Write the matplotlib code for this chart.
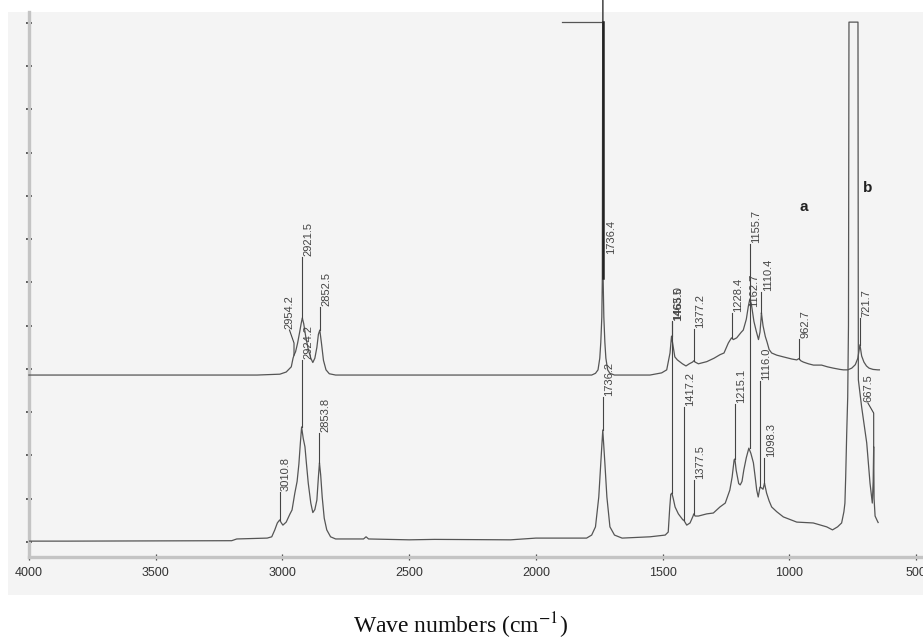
import matplotlib
matplotlib.use("Agg")
import matplotlib.pyplot as plt
from matplotlib.ticker import MultipleLocator
from matplotlib.patches import Rectangle

# ---------------- data (wavenumber cm-1, absorbance a.u.) ----------------
upper_wn = [4000, 3500, 3100, 3010, 2985, 2965, 2958, 2954.2, 2948, 2940, 2932, 2926,
            2921.5, 2916, 2908, 2898, 2888, 2880, 2872, 2864, 2858, 2852.5, 2846, 2838,
            2828, 2815, 2790, 2400, 1900, 1780, 1765, 1755, 1748, 1744, 1740, 1738,
            1736.4, 1734.8, 1732, 1728, 1724, 1717, 1708, 1690, 1550, 1504, 1484, 1471,
            1465, 1458, 1452, 1442, 1422, 1408, 1395, 1382, 1377.2, 1372, 1359, 1326,
            1297, 1274, 1258, 1241, 1228.4, 1221, 1208, 1190, 1182, 1170, 1162, 1156,
            1150, 1140, 1131, 1122, 1116, 1112, 1110.4, 1104, 1095, 1088, 1080, 1070,
            1050, 1024, 990, 971, 962.7, 955, 945, 925, 905, 873, 850, 827, 800, 787,
            770, 754, 740, 730, 721.7, 715, 706, 696, 686, 670, 651, 645]
upper_ab = [3.86, 3.86, 3.86, 3.88, 3.93, 4.05, 4.25, 4.32, 4.40, 4.60, 4.85, 5.05,
            5.18, 5.05, 4.75, 4.45, 4.25, 4.15, 4.25, 4.50, 4.80, 4.90, 4.60, 4.20,
            3.98, 3.89, 3.86, 3.86, 3.86, 3.86, 3.90, 3.98, 4.25, 4.62, 5.20, 6.10,
            12.53, 6.10, 5.20, 4.62, 4.25, 3.98, 3.90, 3.86, 3.86, 3.91, 3.98, 4.37,
            4.76, 4.50, 4.28, 4.21, 4.12, 4.07, 4.12, 4.16, 4.19, 4.16, 4.12, 4.17,
            4.25, 4.33, 4.37, 4.60, 4.72, 4.68, 4.72, 4.85, 4.90, 5.15, 5.45, 5.62,
            5.50, 5.10, 4.88, 4.68, 4.85, 5.15, 5.30, 5.00, 4.75, 4.62, 4.45, 4.37,
            4.32, 4.28, 4.23, 4.21, 4.24, 4.19, 4.16, 4.12, 4.09, 4.09, 4.05, 4.02,
            3.99, 3.98, 3.98, 4.02, 4.10, 4.25, 4.56, 4.30, 4.16, 4.07, 4.02, 3.99,
            3.98, 3.98]

lower_wn = [4000, 3850, 3200, 3180, 3060, 3042, 3030, 3020, 3010.8, 3004, 2998, 2985,
            2970, 2962, 2951, 2942, 2935, 2929, 2924.2, 2918, 2911, 2905, 2898, 2888,
            2880, 2872, 2864, 2858, 2853.8, 2849, 2843, 2835, 2825, 2810, 2790, 2680,
            2670, 2660, 2500, 2400, 2100, 2000, 1800, 1780, 1765, 1752, 1744, 1736.2,
            1728, 1720, 1708, 1690, 1660, 1550, 1490, 1478, 1472, 1468, 1463.5, 1458,
            1451, 1438, 1420, 1417.2, 1405, 1392, 1380, 1377.5, 1372, 1359, 1326, 1300,
            1274, 1253, 1235, 1226, 1218, 1215.1, 1210, 1200, 1194, 1187, 1180, 1170,
            1160, 1152, 1142, 1135, 1129, 1123, 1116, 1110, 1104, 1098.3, 1090, 1080,
            1070, 1050, 1024, 971, 906, 853, 830, 810, 794, 785, 781, 778, 774, 770,
            767, 765, 729.5, 728, 715, 695, 682, 673, 669.5, 667.5, 666, 662, 655, 650]
lower_ab = [0.02, 0.02, 0.03, 0.07, 0.09, 0.12, 0.28, 0.44, 0.51, 0.44, 0.39, 0.46,
            0.65, 0.74, 1.13, 1.40, 1.80, 2.30, 2.66, 2.40, 2.20, 1.80, 1.36, 0.90,
            0.68, 0.75, 0.97, 1.50, 1.83, 1.55, 1.04, 0.55, 0.28, 0.12, 0.07, 0.07,
            0.12, 0.07, 0.05, 0.06, 0.05, 0.09, 0.09, 0.16, 0.35, 1.04, 1.83, 2.59,
            1.83, 1.04, 0.35, 0.16, 0.09, 0.12, 0.16, 0.23, 0.80, 1.10, 1.13, 1.00,
            0.81, 0.65, 0.51, 0.51, 0.39, 0.44, 0.60, 0.65, 0.60, 0.60, 0.65, 0.67,
            0.81, 0.90, 1.20, 1.50, 1.90, 1.92, 1.66, 1.35, 1.32, 1.40, 1.66, 1.95,
            2.17, 2.05, 1.83, 1.50, 1.20, 1.04, 1.27, 1.25, 1.22, 1.36, 1.13, 0.95,
            0.81, 0.70, 0.58, 0.46, 0.44, 0.35, 0.28, 0.35, 0.44, 0.70, 0.90, 1.50,
            2.50, 3.35, 5.00, 12.02, 12.02, 3.75, 3.12, 2.29, 1.36, 0.90, 1.40, 2.20,
            1.00, 0.60, 0.51, 0.45]

# off-scale ceiling segment near the 1736 band of trace a
ceil_wn = [1898, 1736.4]
ceil_ab = [12.02, 12.02]
# saturated core of the 1736 band of trace a
core_wn = [1736.4, 1736.4]
core_ab = [6.10, 12.02]

# peak labels: text, leader x, leader start, leader top, optional kink, text x
peak_text = ["2954.2", "2921.5", "2852.5", "1736.4", "1465.0", "1377.2", "1228.4",
             "1162.7", "1110.4", "962.7", "721.7",
             "3010.8", "2924.2", "2853.8", "1736.2", "1463.5", "1417.2", "1377.5",
             "1215.1", "1155.7", "1116.0", "1098.3", "667.5"]
peak_wn = [2954.2, 2921.5, 2852.5, 1730.0, 1465.0, 1377.2, 1228.4, 1162.7, 1110.4,
           962.7, 721.7,
           3010.8, 2924.2, 2853.8, 1736.2, 1463.5, 1417.2, 1377.5, 1215.1, 1155.7,
           1116.0, 1098.3, 667.5]
peak_base = [4.32, 5.18, 4.90, 6.64, 4.76, 4.19, 4.72, 5.41, 5.30, 4.24, 4.56,
             0.51, 2.66, 1.83, 2.59, 1.13, 0.51, 0.65, 1.92, 2.17, 1.27, 1.36, 2.20]
peak_top = [4.90, 6.59, 5.43, 6.64, 5.11, 4.92, 5.29, 5.41, 5.78, 4.69, 5.18,
            1.16, 4.21, 2.52, 3.35, 5.09, 3.12, 1.43, 3.19, 6.89, 3.72, 1.94, 3.21]
peak_kink = [4.60, None, None, None, None, None, None, None, None, None, None,
             None, None, None, None, None, None, None, None, None, None, None, 2.98]
peak_textwn = [2972, None, None, None, None, None, None, None, None, None, None,
               None, None, None, None, None, None, None, None, None, None, None, 690]

marks = ["a", "b"]
marks_wn = [942, 690]
marks_ab = [7.75, 8.18]

xticks = [4000, 3500, 3000, 2500, 2000, 1500, 1000, 500]

# ---------------- figure ----------------
W, H = 923, 640
fig = plt.figure(figsize=(W / 100, H / 100), dpi=100)
fig.patch.set_facecolor("white")
fig.patches.append(Rectangle((8 / W, 45 / H), 915 / W, 583 / H, transform=fig.transFigure,
                             facecolor="#f4f4f4", edgecolor="none", zorder=-10))

ax = fig.add_axes([28.9 / W, 83 / H, (W - 28.9) / W, 545 / H])
ax.set_zorder(1)
ax.set_facecolor("none")
ax.set_xlim(4000, 473)
ax.set_ylim(-0.347, 12.254)

line_col = "#555555"
ax.plot(upper_wn, upper_ab, color=line_col, lw=0.9, clip_on=False, zorder=3)
ax.plot(lower_wn, lower_ab, color=line_col, lw=0.9, zorder=3)
ax.plot(ceil_wn, ceil_ab, color=line_col, lw=0.9, zorder=3)
ax.plot(core_wn, core_ab, color="#222222", lw=1.8, zorder=3)

lab_col = "#444444"
for t, w, b, tp, k, tw in zip(peak_text, peak_wn, peak_base, peak_top, peak_kink, peak_textwn):
    if k is None:
        if b != tp:
            ax.plot([w, w], [b, tp], color=lab_col, lw=0.8, zorder=4)
        ax.annotate(t, xy=(w, tp), xytext=(4.6, 0.6), textcoords="offset points",
                    rotation=90, ha="center", va="bottom", fontsize=8,
                    family="Liberation Sans", color=lab_col)
    else:
        ax.plot([w, w, tw], [b, k, tp], color=lab_col, lw=0.8, zorder=4)
        ax.annotate(t, xy=(tw, tp), xytext=(0, 0.6), textcoords="offset points",
                    rotation=90, ha="center", va="bottom", fontsize=8,
                    family="Liberation Sans", color=lab_col)

for m, w, a in zip(marks, marks_wn, marks_ab):
    ax.text(w, a, m, ha="center", va="center", fontsize=11, fontweight="bold",
            family="Liberation Sans", color="#222222")

# axes styling
for s in ["top", "right"]:
    ax.spines[s].set_visible(False)
for s in ["left", "bottom"]:
    ax.spines[s].set_color("#c4c4c4")
    ax.spines[s].set_linewidth(2.4)

ax.xaxis.set_major_locator(plt.FixedLocator(xticks))
ax.xaxis.set_minor_locator(MultipleLocator(100))
ax.yaxis.set_major_locator(MultipleLocator(1))
ax.yaxis.set_minor_locator(MultipleLocator(0.25))
ax.tick_params(axis="x", which="major", direction="inout", length=4, width=0.9,
               color="#444444", labelsize=9, pad=5, labelcolor="#333333")
ax.tick_params(axis="x", which="minor", direction="inout", length=2, width=0.9,
               color="#666666")
ax.tick_params(axis="y", which="major", direction="inout", length=5, width=1.1,
               color="#333333", labelleft=False)
ax.tick_params(axis="y", which="minor", direction="inout", length=2, width=1.0,
               color="#666666")
for lbl in ax.get_xticklabels():
    lbl.set_family("Liberation Sans")

fig.text(460 / W, 1 - 626 / H, "Wave numbers (cm$^{-1}$)", ha="center", va="center",
         fontsize=17, family="Liberation Serif", color="#111111",
         math_fontfamily="stix")

fig.savefig("out.png", dpi=100, facecolor="white")
